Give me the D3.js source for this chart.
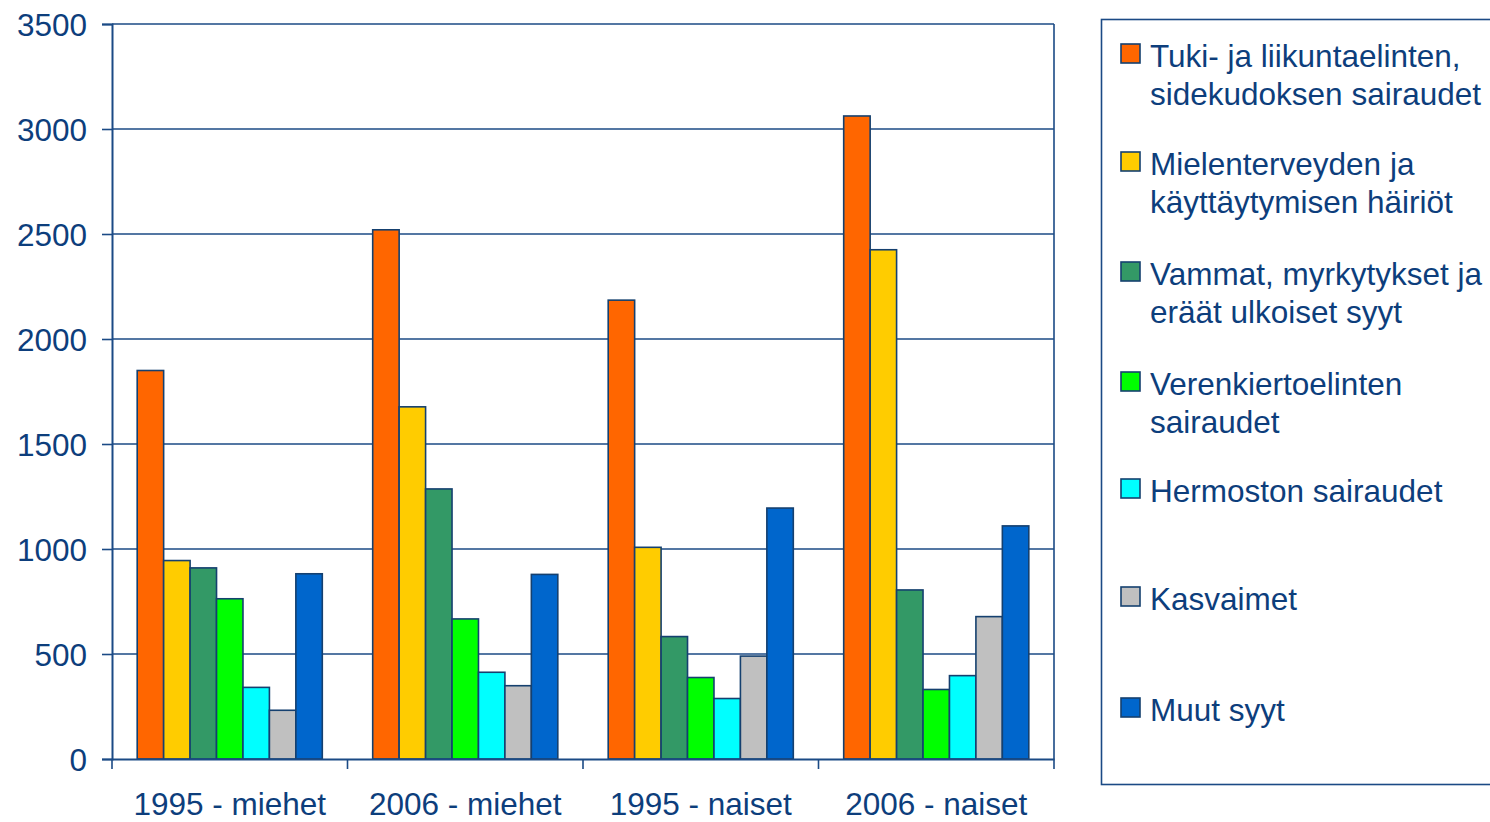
<!DOCTYPE html>
<html><head><meta charset="utf-8">
<script src="https://cdn.jsdelivr.net/npm/d3@7/dist/d3.min.js"></script>
<style>html,body{margin:0;padding:0;background:#fff;overflow:hidden}</style>
</head><body>
<svg id="c" width="1490" height="822"></svg>
<script>
const groups = ["1995 - miehet", "2006 - miehet", "1995 - naiset", "2006 - naiset"];
const seriesNames = [
  ["Tuki- ja liikuntaelinten,", "sidekudoksen sairaudet"],
  ["Mielenterveyden ja", "käyttäytymisen häiriöt"],
  ["Vammat, myrkytykset ja", "eräät ulkoiset syyt"],
  ["Verenkiertoelinten", "sairaudet"],
  ["Hermoston sairaudet"],
  ["Kasvaimet"],
  ["Muut syyt"]
];
const seriesColors = ["#FF6600", "#FFCC00", "#339966", "#00FF00", "#00FFFF", "#C0C0C0", "#0066CC"];
const tukiLiikunta   = [1850, 2520, 2185, 3062];
const mielenterveys  = [945, 1677, 1008, 2425];
const vammat         = [910, 1286, 583, 805];
const verenkierto    = [763, 667, 388, 331];
const hermosto       = [341, 413, 288, 397];
const kasvaimet      = [232, 349, 490, 678];
const muutSyyt       = [882, 879, 1195, 1110];
const yTicks = [0, 500, 1000, 1500, 2000, 2500, 3000, 3500];

const seriesValues = [tukiLiikunta, mielenterveys, vammat, verenkierto, hermosto, kasvaimet, muutSyyt];

const ink = "#0D3E7C";
const lineCol = "#1B4A85";
const font = "'Liberation Sans', Arial, sans-serif";
const fs = 31.5;
const svg = d3.select("#c");
const L = 112, R = 1054, T = 24, B = 759;

const x = d3.scaleBand().domain(groups).range([L, R]).padding(0);
const bw = x.bandwidth();
const inner = d3.scaleBand().domain(d3.range(seriesValues.length)).range([bw*0.107, bw*(1-0.107)]).padding(0);
const y = d3.scaleLinear().domain([0, 3500]).range([B, T]);

// gridlines
svg.append("g").selectAll("line").data(yTicks.filter(d=>d>0)).join("line")
  .attr("x1", L).attr("x2", R).attr("y1", d=>y(d)).attr("y2", d=>y(d))
  .attr("stroke", lineCol).attr("stroke-width", 1.6);

// right border
svg.append("line").attr("x1", R).attr("x2", R).attr("y1", T).attr("y2", B)
  .attr("stroke", lineCol).attr("stroke-width", 1.6);

// bars
const data = [];
groups.forEach((g, gi) => seriesValues.forEach((s, si) => data.push({g, si, v: s[gi]})));
svg.append("g").selectAll("rect").data(data).join("rect")
  .attr("x", d => x(d.g) + inner(d.si))
  .attr("width", inner.bandwidth())
  .attr("y", d => y(d.v))
  .attr("height", d => y(0) - y(d.v))
  .attr("fill", d => seriesColors[d.si])
  .attr("stroke", "#15406F").attr("stroke-width", 1.6);

// y axis
const ya = d3.axisLeft(y).tickValues(yTicks).tickSize(10).tickPadding(14).tickFormat(d3.format("d"));
const yg = svg.append("g").attr("transform", `translate(${L},0)`).call(ya);
yg.select(".domain").attr("stroke", lineCol).attr("stroke-width", 2);
yg.selectAll(".tick line").attr("stroke", lineCol).attr("stroke-width", 1.6);
yg.selectAll("text").attr("fill", ink).attr("font-family", font).attr("font-size", fs).attr("dy", "0.36em").attr("x", -25);

// x axis
const xa = d3.axisBottom(x).tickSize(0).tickPadding(0);
const xg = svg.append("g").attr("transform", `translate(0,${B})`).call(xa);
xg.select(".domain").attr("stroke", lineCol).attr("stroke-width", 2);
xg.selectAll("text").attr("fill", ink).attr("font-family", font).attr("font-size", fs).attr("y", 56).attr("dy", 0);
// tick marks at group boundaries
const bounds = groups.map(g => x(g)).concat([R]);
svg.append("g").selectAll("line").data(bounds).join("line")
  .attr("x1", d=>d).attr("x2", d=>d).attr("y1", B).attr("y2", B+10)
  .attr("stroke", lineCol).attr("stroke-width", 1.6);

// legend
svg.append("rect").attr("x", 1101.5).attr("y", 19.5).attr("width", 420).attr("height", 765)
  .attr("fill", "none").attr("stroke", lineCol).attr("stroke-width", 1.6);
const baselines = [67, 175, 285, 395, 502, 610, 721];
const lg = svg.append("g").selectAll("g").data(seriesNames).join("g")
  .attr("transform", (d,i) => `translate(1121,${baselines[i]})`);
lg.append("rect").attr("x", 0).attr("y", -23).attr("width", 19).attr("height", 19)
  .attr("fill", (d,i)=>seriesColors[i]).attr("stroke", "#15406F").attr("stroke-width", 1.6);
lg.each(function(lines){
  const t = d3.select(this).append("text").attr("x", 29).attr("y", 0)
    .attr("fill", ink).attr("font-family", font).attr("font-size", fs);
  lines.forEach((ln, k) => t.append("tspan").attr("x", 29).attr("y", k*38).text(ln));
});
</script>
</body></html>
